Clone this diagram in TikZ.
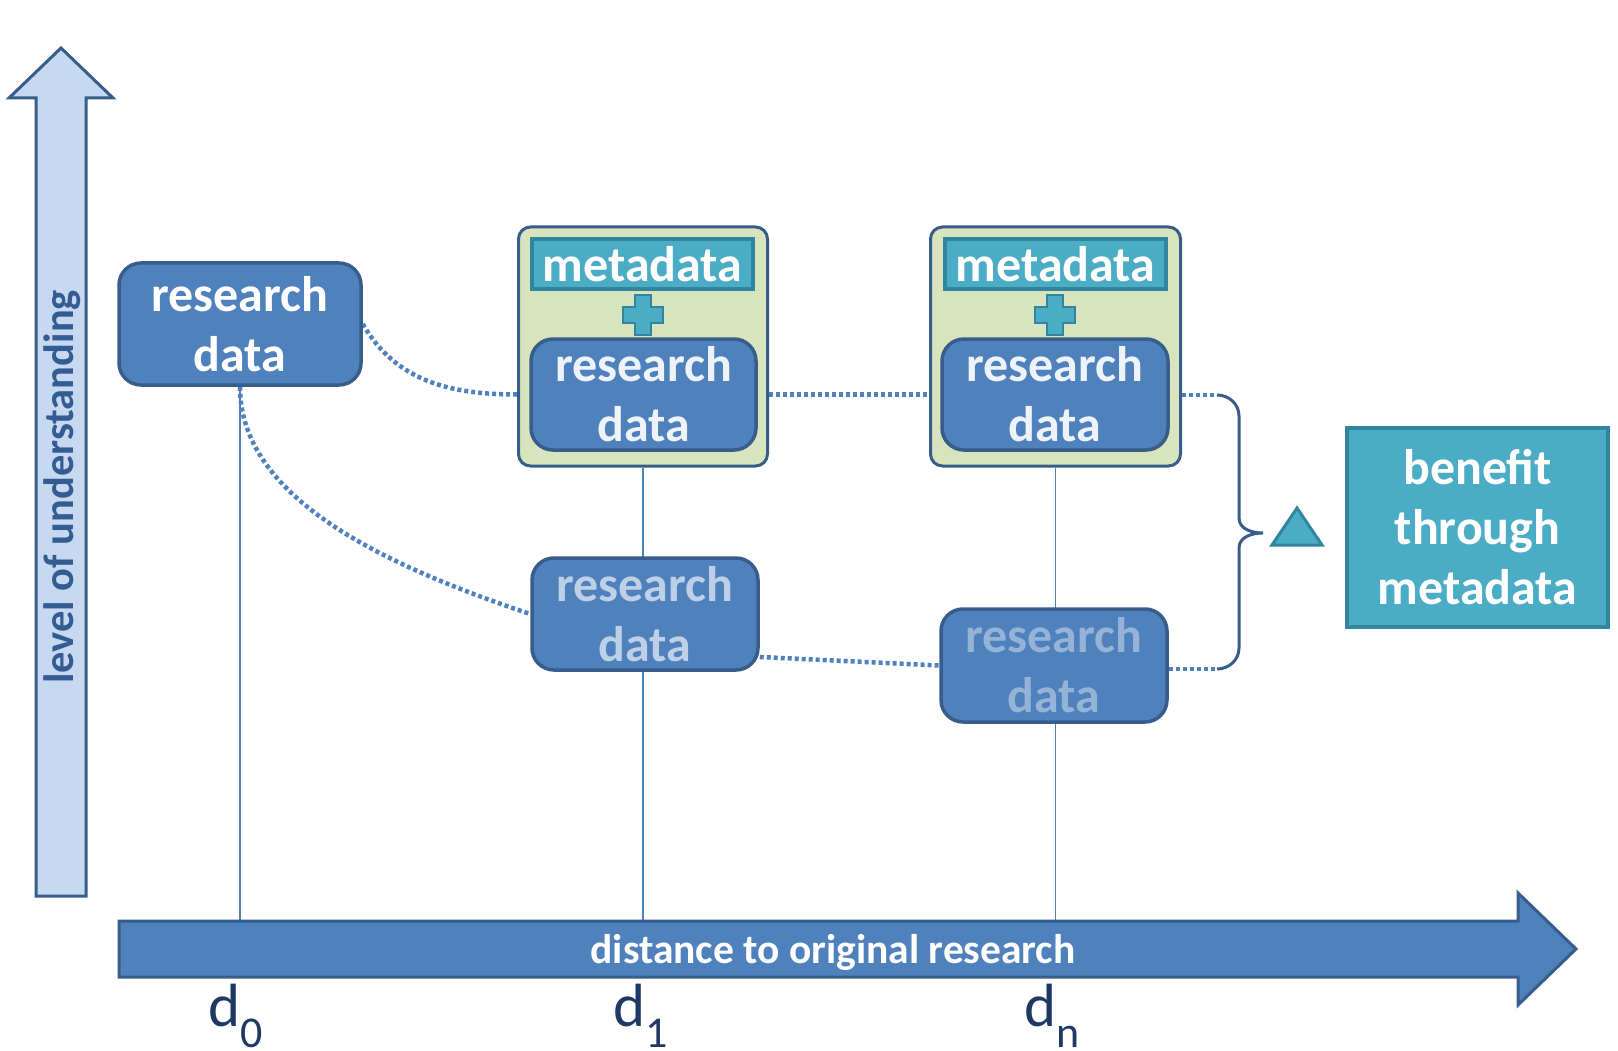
\documentclass[tikz,border=0pt]{standalone}
\usepackage{fontspec}
\setmainfont{Carlito}
\usetikzlibrary{calc}
\definecolor{rdfill}{HTML}{4F81BD}
\definecolor{rdline}{HTML}{385D8A}
\definecolor{green}{HTML}{D7E4BD}
\definecolor{teal}{HTML}{4BACC6}
\definecolor{tealdark}{HTML}{31859C}
\definecolor{lightarrow}{HTML}{C6D9F1}
\definecolor{rdtext}{HTML}{EEF3FA}
\definecolor{fadeA}{HTML}{BDD0E7}
\definecolor{fadeB}{HTML}{95B3D7}
\definecolor{navy}{HTML}{1F3864}
\definecolor{levelc}{HTML}{345C92}
\pgfdeclarelayer{bg}
\pgfsetlayers{bg,main}
\tikzset{
  boxfont/.style={font=\fontsize{50}{60}\selectfont\bfseries},
  rdbox/.style={boxfont, draw=rdline, line width=3.5pt, fill=rdfill, rounded corners=22pt, align=center, inner sep=0pt},
  contbox/.style={draw=rdline, line width=3pt, fill=green, rounded corners=12pt, inner sep=0pt},
  mdbox/.style={boxfont, draw=tealdark, line width=3.5pt, fill=teal, text=white, inner sep=0pt},
  benefitbox/.style={boxfont, draw=tealdark, line width=3.5pt, fill=teal, text=white, align=center, inner sep=0pt},
  plusshape/.style={draw=tealdark, line width=2.5pt, fill=teal, line join=miter},
  dotline/.style={draw=rdfill, line width=4.5pt, dash pattern=on 4pt off 3pt},
  vline/.style={draw=rdfill, line width=1.5pt},
  bracestyle/.style={draw=rdline, line width=3pt},
  dlabel/.style={font=\fontsize{61}{61}\selectfont, text=navy, inner sep=0pt, anchor=base west},
}
\newcommand{\plusat}[2]{%
  \draw[plusshape] (#1-8,#2+20) -- (#1+8,#2+20) -- (#1+8,#2+8) -- (#1+20,#2+8) -- (#1+20,#2-8) -- (#1+8,#2-8) -- (#1+8,#2-20) -- (#1-8,#2-20) -- (#1-8,#2-8) -- (#1-20,#2-8) -- (#1-20,#2+8) -- (#1-8,#2+8) -- cycle;}
\newcommand{\dsub}[1]{\raisebox{-21pt}{\fontsize{44}{44}\selectfont #1}}
\begin{document}
\begin{tikzpicture}[x=1pt,y=1pt]
\useasboundingbox (0,0) rectangle (1618,-1051);

% vertical axis arrow
\draw[draw=rdline, line width=3pt, fill=lightarrow, line join=miter]
  (36,-896) -- (36,-98) -- (9,-98) -- (61,-48) -- (113,-98) -- (86,-98) -- (86,-896) -- cycle;
\node[rotate=90, anchor=base, inner sep=0pt, text=levelc, font=\fontsize{42.5}{42.5}\selectfont\bfseries] (lvl) at (73,-487) {level of understanding};

% horizontal axis arrow
\draw[draw=rdline, line width=3pt, fill=rdfill, line join=miter]
  (119,-921) -- (1518,-921) -- (1518,-893) -- (1576,-949) -- (1518,-1005) -- (1518,-977) -- (119,-977) -- cycle;
\coordinate (axt) at (0,-921);
\node[anchor=base, inner sep=0pt, text=white, font=\fontsize{41.5}{41.5}\selectfont\bfseries] (dist) at (833,-963) {distance to original research};

% labels d
\node[dlabel] (d0) at (208,-1026) {d\dsub{0}};
\node[dlabel] (d1) at (613,-1026) {d\dsub{1}};
\node[dlabel] (dn) at (1024,-1026) {d\dsub{n}};

% research data at d0
\node[rdbox, text=white, minimum width=242pt, minimum height=122pt] (rd0) at (240,-324) {research\\data};

% container 1
\node[contbox, minimum width=249pt, minimum height=239pt] (c1) at (643,-346.5) {};
\node[mdbox, minimum width=221pt, minimum height=50pt] (m1) at (642.5,-264) {metadata};
\plusat{643}{-315}
\node[rdbox, text=rdtext, minimum width=225pt, minimum height=111pt] (r1) at (643.5,-394.5) {research\\data};

% container 2
\node[contbox, minimum width=250pt, minimum height=239pt] (c2) at (1055.5,-346.5) {};
\node[mdbox, minimum width=221pt, minimum height=50pt] (m2) at (1055.5,-264) {metadata};
\plusat{1055}{-315}
\node[rdbox, text=rdtext, minimum width=226pt, minimum height=111pt] (r2) at (1055,-394.5) {research\\data};

% faded research data
\node[rdbox, text=fadeA, minimum width=226pt, minimum height=112pt] (f1) at (645,-614) {research\\data};
\node[rdbox, text=fadeB, minimum width=226pt, minimum height=113pt] (f2) at (1054,-665.5) {research\\data};

% benefit
\node[benefitbox, minimum width=261pt, minimum height=199pt] (ben) at (1477.5,-527.5) {benefit\\through\\metadata};
\draw[draw=tealdark, line width=3pt, fill=teal, line join=miter] (1272,-545) -- (1297,-508) -- (1322,-545) -- cycle;

% brace
\coordinate (bt) at (1217,-395);
\coordinate (bb) at (1217,-669);
\draw[bracestyle] (bt) to[out=0,in=90] (1239,-416) -- (1239,-518) to[out=-90,in=180] (1263,-533) to[out=180,in=90] (1239,-548) -- (1239,-648) to[out=-90,in=0] (bb);

\begin{pgfonlayer}{bg}
  \draw[vline] (rd0.south) -- (rd0.south |- axt);
  \draw[vline] (c1.south) -- (c1.south |- axt);
  \draw[vline] (c2.south) -- (c2.south |- axt);
  \draw[dotline] (rd0.east) to[out=-60,in=180] (c1.west |- r1.center);
  \draw[dotline] (c1.east |- r1.center) -- (c2.west |- r2.center);
  \draw[dotline] (rd0.south) .. controls +(0,-110) and +(-150,50) .. (f1.west);
  \draw[dotline] ($(f1.east)+(0,-43)$) -- (f2.west);
  \draw[dotline] (c2.east |- bt) -- (bt);
  \draw[dotline] (f2.east |- bb) -- (bb);
\end{pgfonlayer}
\end{tikzpicture}
\end{document}
